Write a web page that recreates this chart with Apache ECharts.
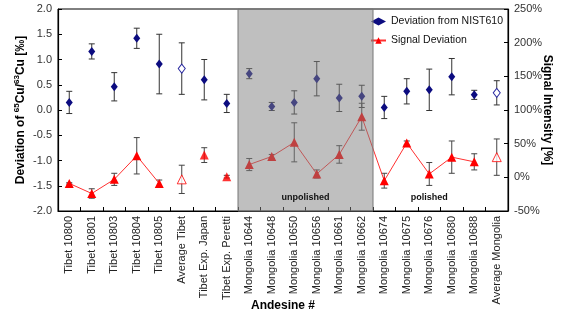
<!DOCTYPE html>
<html>
<head>
<meta charset="utf-8">
<script src="https://cdn.jsdelivr.net/npm/echarts@6/dist/echarts.min.js"></script>
<style>
  html, body { margin: 0; padding: 0; background: #fff; }
  #chart-container { width: 563px; height: 317px; }
</style>
</head>
<body>
<div id="chart-container"></div>
<script>
// categorías del eje x
const categories = ['Tibet 10800', 'Tibet 10801', 'Tibet 10803', 'Tibet 10804', 'Tibet 10805',
  'Average Tibet', 'Tibet Exp. Japan', 'Tibet Exp. Peretti',
  'Mongolia 10644', 'Mongolia 10648', 'Mongolia 10650', 'Mongolia 10656', 'Mongolia 10661', 'Mongolia 10662',
  'Mongolia 10674', 'Mongolia 10675', 'Mongolia 10676', 'Mongolia 10680', 'Mongolia 10688', 'Average Mongolia'];

// desviación 65Cu/63Cu [‰] y su error
const devValues = [0.15, 1.16, 0.46, 1.42, 0.91, 0.82, 0.60, 0.13, 0.72, 0.07, 0.15, 0.62, 0.24, 0.27, 0.05, 0.37, 0.40, 0.66, 0.30, 0.34];
const devErrors = [0.22, 0.15, 0.28, 0.20, 0.59, 0.51, 0.40, 0.18, 0.10, 0.08, 0.23, 0.34, 0.27, 0.22, 0.22, 0.25, 0.41, 0.36, 0.09, 0.24];

// desviación de señal [%] y su error
const sigValues = [-9, -24, -3, 32, -9, -3, 33, 1, 19, 31, 52, 5, 34, 90, -5, 51, 5, 30, 23, 30];
const sigErrors = [1, 7, 9, 27, 5, 21, 11, 2, 9, 3, 29, 6, 13, 20, 11, 3, 17, 24, 12, 27];

// puntos huecos (promedios) y puntos sin línea
const hollowCats = ['Average Tibet', 'Average Mongolia'];
const unlinkedCats = ['Average Tibet', 'Tibet Exp. Japan', 'Tibet Exp. Peretti', 'Average Mongolia'];

// zonas: [primera, última, texto, sombreada]
const zones = [
  ['Mongolia 10644', 'Mongolia 10662', 'unpolished', true],
  ['Mongolia 10674', 'Mongolia 10688', 'polished', false]
];

const leftTicks = { min: -2, max: 2, interval: 0.5 };
const rightTicks = { min: -50, max: 250, interval: 50 };

const BLUE = '#0c0c80';
const RED = '#ff0000';
const FONT = 'Liberation Sans';

let myChart = echarts.init(document.getElementById('chart-container'), null, { renderer: 'canvas' });

// barras de error con custom series
function errorBars(values, errors, yIndex, color) {
  return {
    type: 'custom',
    yAxisIndex: yIndex,
    z: 2,
    silent: true,
    data: values.map((v, i) => [i, v - errors[i], v + errors[i]]),
    renderItem: function (params, api) {
      const lo = api.coord([api.value(0), api.value(1)]);
      const hi = api.coord([api.value(0), api.value(2)]);
      const w = 3;
      const st = { stroke: color, lineWidth: 1 };
      return {
        type: 'group',
        children: [
          { type: 'line', shape: { x1: hi[0], y1: hi[1], x2: lo[0], y2: lo[1] }, style: st },
          { type: 'line', shape: { x1: hi[0] - w, y1: hi[1], x2: hi[0] + w, y2: hi[1] }, style: st },
          { type: 'line', shape: { x1: lo[0] - w, y1: lo[1], x2: lo[0] + w, y2: lo[1] }, style: st }
        ]
      };
    }
  };
}

const devData = devValues.map((v, i) => {
  if (hollowCats.includes(categories[i])) {
    return { value: v, itemStyle: { color: '#fff', borderColor: '#2a2aa0', borderWidth: 1 } };
  }
  return v;
});

const sigLine = sigValues.map((v, i) => unlinkedCats.includes(categories[i]) ? '-' : v);
const sigLoose = sigValues.map((v, i) => {
  if (!unlinkedCats.includes(categories[i])) return '-';
  if (hollowCats.includes(categories[i])) {
    return { value: v, itemStyle: { color: '#fff', borderColor: RED, borderWidth: 1 } };
  }
  return v;
});

const axisCommon = {
  axisLine: { show: true, onZero: false, lineStyle: { color: '#000', width: 1.2 } },
  axisTick: { show: true, inside: true, length: 4, lineStyle: { color: '#000' } },
  splitLine: { show: false },
  axisLabel: { color: '#333', fontSize: 11, fontFamily: FONT },
  nameMoveOverlap: false
};

const option = {
  animation: false,
  textStyle: { fontFamily: FONT },
  grid: {
    left: 58, right: 55, top: 9, bottom: 106,
    outerBoundsMode: 'none',
    show: true, borderColor: '#000', borderWidth: 1
  },
  legend: {
    orient: 'vertical',
    left: 365,
    top: 11,
    itemWidth: 15,
    itemHeight: 8,
    itemGap: 8,
    data: ['Deviation from NIST610', 'Signal Deviation'],
    textStyle: { fontSize: 10.5, color: '#111', fontFamily: FONT }
  },
  xAxis: {
    type: 'category',
    data: categories,
    boundaryGap: true,
    ...axisCommon,
    axisLabel: { color: '#222', fontSize: 11, fontFamily: FONT, rotate: 90, margin: 5, interval: 0 },
    name: 'Andesine #',
    nameLocation: 'middle',
    nameGap: 89,
    nameTextStyle: { fontSize: 12, fontWeight: 'bold', color: '#000', fontFamily: FONT }
  },
  yAxis: [
    {
      type: 'value',
      ...leftTicks,
      ...axisCommon,
      axisLabel: { color: '#333', fontSize: 11, fontFamily: FONT, margin: 6, formatter: v => v.toFixed(1) },
      name: '{b|Deviation of }{s|65}{b|Cu/}{s|63}{b|Cu [‰]}',
      nameLocation: 'middle',
      nameGap: 29,
      nameRotate: 90,
      nameTextStyle: {
        color: '#000',
        rich: {
          b: { fontSize: 12, fontWeight: 'bold', color: '#000', fontFamily: FONT, lineHeight: 16 },
          s: { fontSize: 8, fontWeight: 'bold', color: '#000', fontFamily: FONT, verticalAlign: 'top', lineHeight: 16, padding: [0, 0, 6, 0] }
        }
      }
    },
    {
      type: 'value',
      ...rightTicks,
      ...axisCommon,
      axisLabel: { color: '#333', fontSize: 11, fontFamily: FONT, margin: 6, formatter: '{value}%' },
      name: 'Signal Intensity [%]',
      nameLocation: 'middle',
      nameGap: 33,
      nameRotate: -90,
      nameTextStyle: { fontSize: 12, fontWeight: 'bold', color: '#000', fontFamily: FONT }
    }
  ],
  series: [
    errorBars(devValues, devErrors, 0, '#333'),
    errorBars(sigValues, sigErrors, 1, '#444'),
    {
      name: 'Deviation from NIST610',
      type: 'scatter',
      yAxisIndex: 0,
      z: 3,
      symbol: 'diamond',
      symbolSize: [7, 9],
      itemStyle: { color: BLUE, opacity: 1 },
      data: devData
    },
    {
      name: 'Signal Deviation',
      type: 'line',
      yAxisIndex: 1,
      z: 3,
      symbol: 'triangle',
      symbolSize: 9,
      showSymbol: true,
      connectNulls: false,
      lineStyle: { color: '#ff3030', width: 1 },
      itemStyle: { color: RED },
      data: sigLine
    },
    {
      name: 'Signal Deviation',
      type: 'scatter',
      yAxisIndex: 1,
      z: 3,
      symbol: 'triangle',
      symbolSize: 9,
      itemStyle: { color: RED },
      data: sigLoose
    },
    {
      // capa gris semitransparente y etiquetas de zona, sobre los datos
      type: 'custom',
      yAxisIndex: 0,
      z: 10,
      silent: true,
      data: zones.map(z => [categories.indexOf(z[0]), categories.indexOf(z[1])]),
      renderItem: function (params, api) {
        const zone = zones[params.dataIndex];
        const band = api.size([1, 0])[0];
        const a = api.coord([api.value(0), leftTicks.max]);
        const b = api.coord([api.value(1), leftTicks.min]);
        const x1 = a[0] - band / 2;
        const x2 = b[0] + band / 2;
        const children = [];
        if (zone[3]) {
          children.push({
            type: 'rect',
            shape: { x: x1, y: a[1], width: x2 - x1, height: b[1] - a[1] },
            style: { fill: 'rgba(128,128,128,0.5)', stroke: '#777', lineWidth: 1 }
          });
        }
        children.push({
          type: 'text',
          style: {
            text: zone[2], x: (x1 + x2) / 2, y: b[1] - 13,
            align: 'center', verticalAlign: 'middle',
            fill: '#111', font: 'bold 9px "Liberation Sans"'
          }
        });
        return { type: 'group', children: children };
      }
    }
  ]
};

myChart.setOption(option);
window.addEventListener('resize', myChart.resize);
</script>
</body>
</html>
